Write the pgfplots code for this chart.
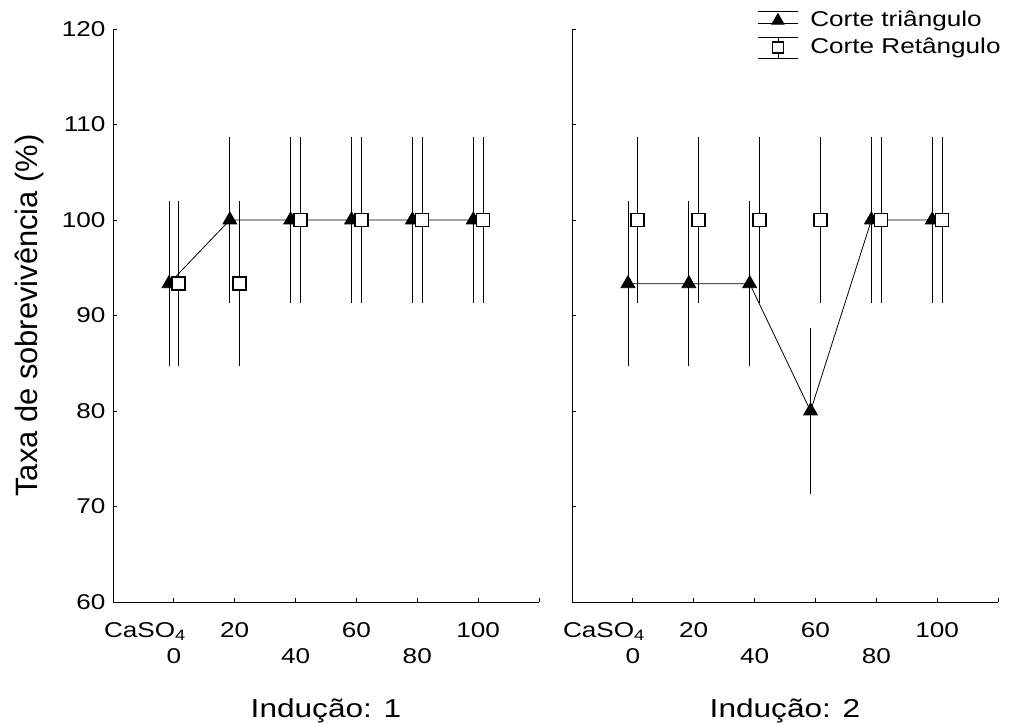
\documentclass[border=0pt]{standalone}
\usepackage{fontspec}
\setmainfont{Liberation Sans}
\newfontfamily\wide[FakeStretch=1.22]{Liberation Sans}
\usepackage{pgfplots}
\pgfplotsset{compat=1.18}
\newcommand\tl[2]{\begin{tabular}[t]{@{}c@{}}#1\\#2\end{tabular}}
\newcommand\casoz{\hbox to 0pt{\hss CaSO\textsubscript{4}\hskip -12bp}}

\pgfplotsset{
  panel/.style={
    scale only axis, width=426bp, height=573bp,
    xmin=-1, xmax=6, ymin=60, ymax=120,
    axis x line*=bottom, axis y line*=left,
    tick align=inside, major tick length=4bp,
    xtick={0,1,2,3,4,5,6},
    xticklabels={\tl{\casoz}{0},\tl{20}{},\tl{}{40},\tl{60}{},\tl{}{80},\tl{100}{},{}},
    ytick={60,70,...,120},
    tick label style={font=\wide\fontsize{21.5}{27}\selectfont},
    xticklabel style={anchor=base, yshift=-35bp},
    yticklabel style={xshift=-4bp},
    /pgf/number format/assume math mode=true,
    axis line style={line width=0.8bp},
    tick style={line width=0.8bp, black},
    every axis x label/.style={at={(axis description cs:0.5,-0.201)}, anchor=base, font=\wide\fontsize{26}{30}\selectfont},
    every axis y label/.style={at={(axis description cs:-0.195,0.5)}, rotate=90, anchor=center, font=\fontsize{31}{34}\selectfont},
  },
  ebars/.style={
    error bars/y dir=both, error bars/y explicit, error bars/error mark=-,
    error bars/error mark options={black, mark size=4bp, line width=0.8bp},
    error bars/error bar style={line width=0.8bp}},
  tri/.style={black, line width=0.8bp, mark=triangle*, mark size=8bp, mark options={solid, fill=black}, ebars},
  sq/.style={black, only marks, mark=square*, mark size=6.5bp, mark options={solid, fill=white, line width=1.6bp}, ebars},
}

\begin{document}
\begin{tikzpicture}
\path[use as bounding box] (0,0) rectangle (1010bp,724bp);

\begin{axis}[panel, at={(113bp,122bp)}, anchor=south west,
  xlabel={Indução: 1}, ylabel={Taxa de sobrevivência (\%)}]
\addplot[tri] table[x=x, y=y, y error=e] {
x y e
-0.08 93.33 8.2
0.92 100 8.3
1.92 100 8.3
2.92 100 8.3
3.92 100 8.3
4.92 100 8.3
};
\addplot[sq] table[x=x, y=y, y error=e] {
x y e
0.08 93.33 8.2
1.08 93.33 8.2
2.08 100 8.3
3.08 100 8.3
4.08 100 8.3
5.08 100 8.3
};
\end{axis}

\begin{axis}[panel, at={(572bp,122bp)}, anchor=south west,
  yticklabels={}, xlabel={Indução: 2},
  legend style={at={(axis description cs:1.009,1.035)}, anchor=north east, draw=none, fill=none,
    font=\wide\fontsize{21.5}{23}\selectfont, row sep=4bp, inner sep=0pt, column sep=11bp,
    nodes={inner sep=1bp, text height=16bp, text depth=5bp}},
  legend cell align=left]
\addplot[tri, legend image code/.code={
    \draw[black, line width=0.8bp] (0bp,9bp) -- (40bp,9bp);
    \draw[black, line width=0.8bp] (0bp,-3bp) -- (40bp,-3bp);
    \path plot[mark=triangle*, mark size=7bp, mark options={fill=black}] coordinates {(20bp,0bp)};
  }] table[x=x, y=y, y error=e] {
x y e
-0.08 93.33 8.2
0.92 93.33 8.2
1.92 93.33 8.2
2.92 80 8.3
3.92 100 8.3
4.92 100 8.3
};
\addlegendentry{Corte triângulo}
\addplot[sq, legend image code/.code={
    \draw[black, line width=0.8bp] (20bp,-11bp) -- (20bp,10bp);
    \draw[black, line width=0.8bp] (0bp,-11bp) -- (40bp,-11bp);
    \draw[black, line width=0.8bp] (0bp,10bp) -- (40bp,10bp);
    \path plot[mark=square*, mark size=5.5bp, mark options={fill=white, line width=1.4bp}] coordinates {(20bp,0bp)};
  }] table[x=x, y=y, y error=e] {
x y e
0.08 100 8.3
1.08 100 8.3
2.08 100 8.3
3.08 100 8.3
4.08 100 8.3
5.08 100 8.3
};
\addlegendentry{Corte Retângulo}
\end{axis}
\end{tikzpicture}
\end{document}
